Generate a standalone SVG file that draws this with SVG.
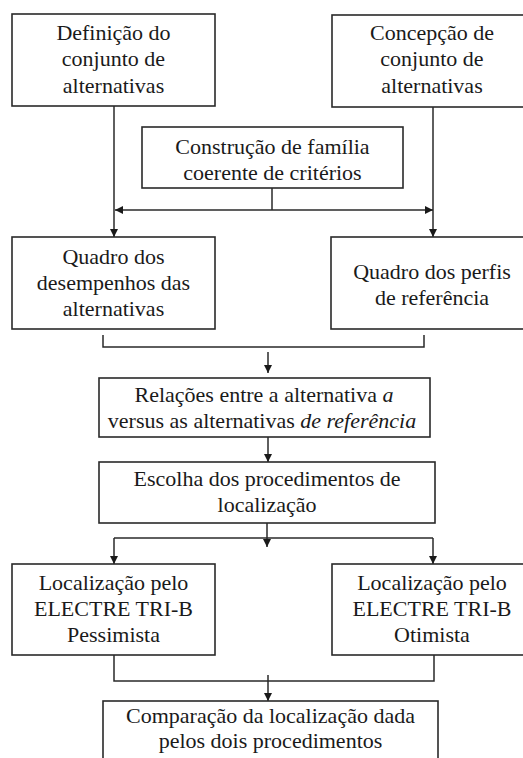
<svg xmlns="http://www.w3.org/2000/svg" width="523" height="758" viewBox="0 0 523 758">
<defs>
<marker id="ah" markerWidth="10" markerHeight="10" refX="9" refY="5" orient="auto" markerUnits="userSpaceOnUse">
<path d="M1,1 L9,5 L1,9 Z" fill="#1a1a1a"/>
</marker>
<style>
.box{fill:#fff;stroke:#2a2a2a;stroke-width:1.6}
.c{fill:none;stroke:#2a2a2a;stroke-width:1.5}
.a{fill:none;stroke:#2a2a2a;stroke-width:1.5;marker-end:url(#ah)}
text{font-family:'Liberation Serif','Times New Roman',serif;font-size:22px;fill:#1a1a1a;text-anchor:middle}
</style>
</defs>
<rect width="523" height="758" fill="#fff"/>
<g id="connectors">
<path class="a" d="M114,106 V237"/>
<path class="a" d="M433,107 V237"/>
<path class="c" d="M272,188 V210"/>
<path class="a" d="M272,210 H115"/>
<path class="a" d="M272,210 H433"/>
<path class="c" d="M103,335 V347 H424 V335"/>
<path class="a" d="M268,352 V373"/>
<path class="a" d="M268,437 V462"/>
<path class="c" d="M267,523 V538"/>
<path class="a" d="M267,538 V547"/>
<path class="c" d="M114,538 H433"/>
<path class="a" d="M114,538 V564"/>
<path class="a" d="M433,538 V564"/>
<path class="c" d="M114,655 V681 H434 V655"/>
<path class="a" d="M268,675 V701"/>
</g>
<g id="n1"><rect class="box" x="12" y="14" width="203" height="92"/>
<text x="113.5" y="40">Definição do</text><text x="113.5" y="66">conjunto de</text><text x="113.5" y="93">alternativas</text></g>
<g id="n2"><rect class="box" x="332" y="15" width="203" height="92"/>
<text x="432" y="40">Concepção de</text><text x="432" y="66">conjunto de</text><text x="432" y="93">alternativas</text></g>
<g id="n3"><rect class="box" x="142" y="127" width="261" height="61"/>
<text x="272.5" y="154">Construção de família</text><text x="272.5" y="180">coerente de critérios</text></g>
<g id="n4"><rect class="box" x="12" y="237" width="203" height="92"/>
<text x="113.5" y="264">Quadro dos</text><text x="113.5" y="290">desempenhos das</text><text x="113.5" y="316">alternativas</text></g>
<g id="n5"><rect class="box" x="331" y="237" width="204" height="92"/>
<text x="432" y="279">Quadro dos perfis</text><text x="432" y="305">de referência</text></g>
<g id="n6"><rect class="box" x="99" y="378" width="331" height="59"/>
<text x="264" y="402">Relações entre a alternativa <tspan font-style="italic">a</tspan></text><text x="262" y="428">versus as alternativas <tspan font-style="italic">de referência</tspan></text></g>
<g id="n7"><rect class="box" x="99" y="462" width="336" height="61"/>
<text x="267" y="486">Escolha dos procedimentos de</text><text x="267" y="512">localização</text></g>
<g id="n8"><rect class="box" x="12" y="564" width="203" height="91"/>
<text x="113.5" y="590">Localização pelo</text><text x="113.5" y="616">ELECTRE TRI-B</text><text x="113.5" y="642">Pessimista</text></g>
<g id="n9"><rect class="box" x="332" y="564" width="203" height="91"/>
<text x="432" y="590">Localização pelo</text><text x="432" y="616">ELECTRE TRI-B</text><text x="432" y="642">Otimista</text></g>
<g id="n10"><rect class="box" x="103" y="701" width="335" height="70"/>
<text x="270.5" y="723">Comparação da localização dada</text><text x="270.5" y="748">pelos dois procedimentos</text></g>
</svg>
